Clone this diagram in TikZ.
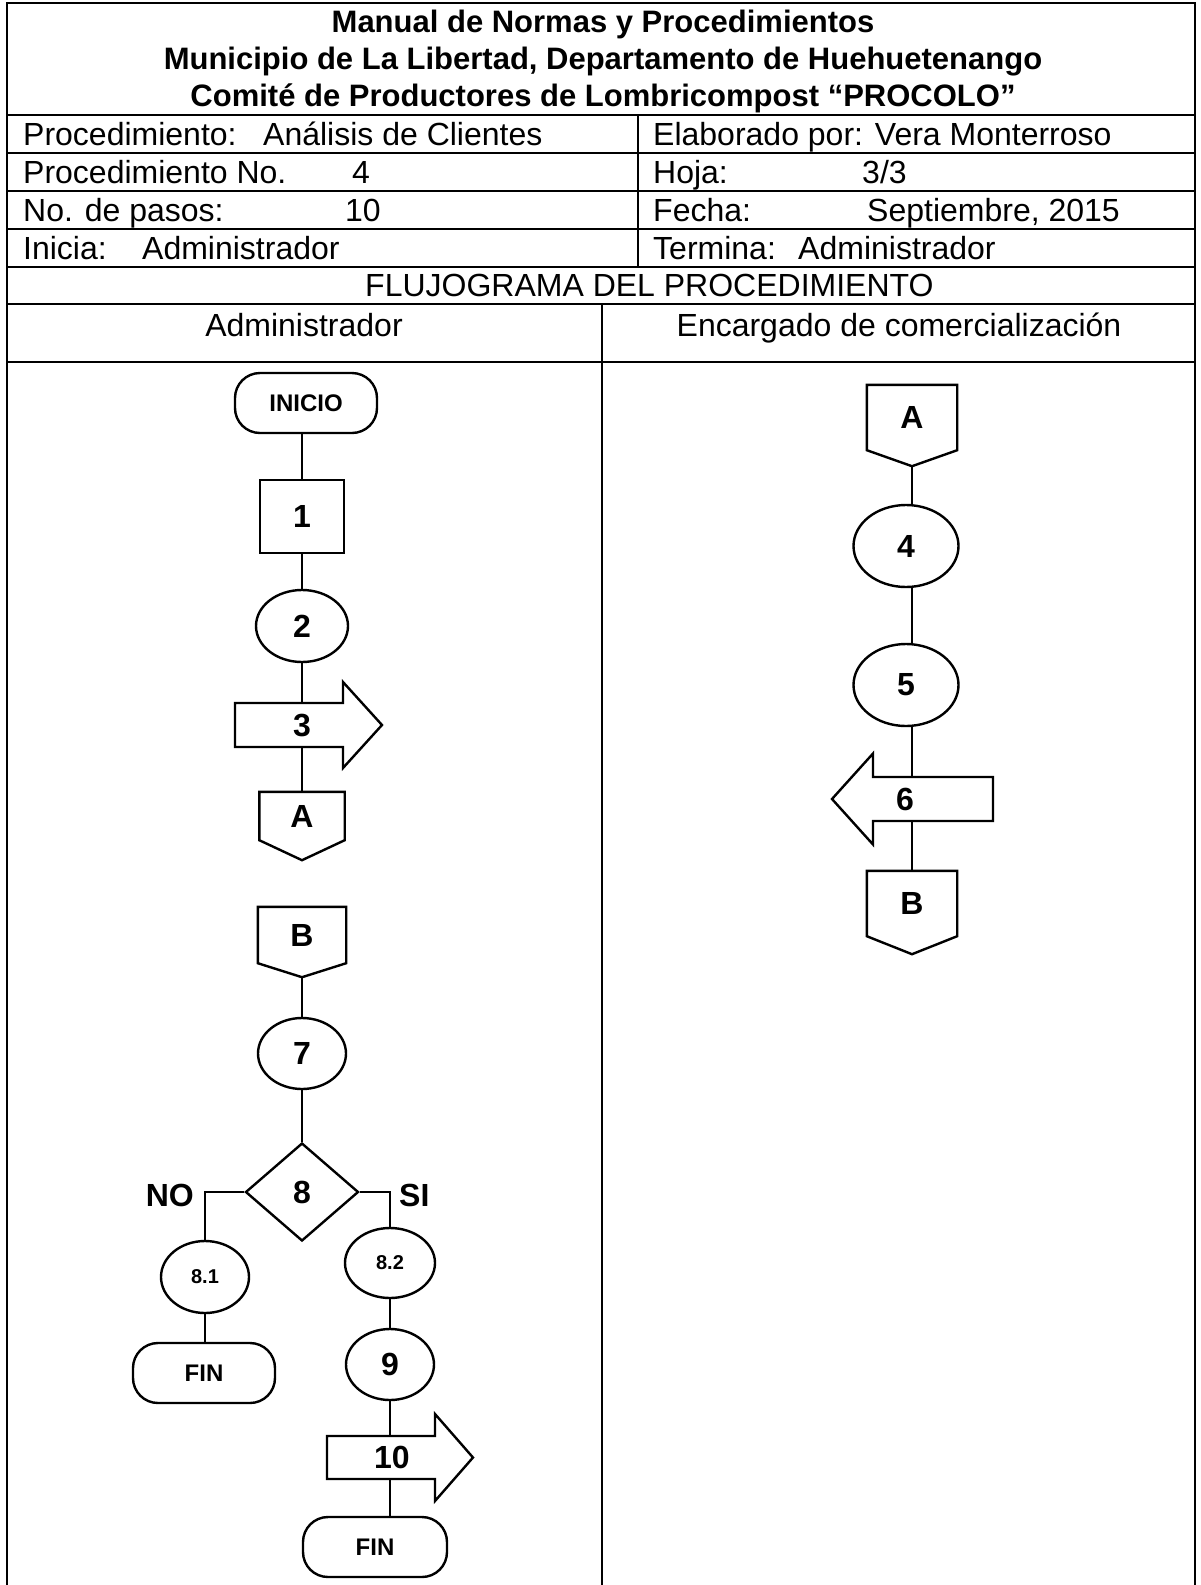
\documentclass[tikz,border=0pt]{standalone}
\usepackage{fontspec}
\setmainfont{Liberation Sans}
\usetikzlibrary{shapes.geometric,calc}

% off-page connector outline around a rectangular node, with a pointed bottom
\newcommand\drawoffpage[2]{%
  \draw[flow] (#1.north west) -- (#1.north east) -- (#1.south east)
    -- ($(#1.south)+(0,#2)$) coordinate (#1-tip) -- (#1.south west) -- cycle;}
% block arrow around a label node: tail dx, head-base dx, tip dx, half body, half head
\newcommand\drawblockarrow[6]{%
  \draw[flow] ($(#1)+(#2,-#5)$) -- ($(#1)+(#3,-#5)$) -- ($(#1)+(#3,-#6)$)
    -- ($(#1)+(#4,0)$) -- ($(#1)+(#3,#6)$) -- ($(#1)+(#3,#5)$)
    -- ($(#1)+(#2,#5)$) -- cycle;}

\tikzset{
  rule/.style={line width=2.6pt, line cap=rect},
  flow/.style={line width=2.4pt, line join=miter},
  cell/.style={anchor=base west, inner sep=0pt, font=\fontsize{32}{38}\selectfont},
  titletxt/.style={anchor=base, inner sep=0pt, font=\fontsize{31}{37}\selectfont\bfseries},
  lanetxt/.style={anchor=base, inner sep=0pt, font=\fontsize{32}{38}\selectfont},
  terminal/.style={draw, flow, rectangle, rounded corners=25pt, minimum width=#1,
    minimum height=60pt, inner sep=0pt, font=\fontsize{24}{28}\selectfont\bfseries},
  opbox/.style={draw, flow, rectangle, minimum width=84pt, minimum height=73pt,
    inner sep=0pt, font=\fontsize{32}{38}\selectfont\bfseries},
  oval/.style={draw, flow, ellipse, inner sep=0pt, font=\fontsize{32}{38}\selectfont\bfseries},
  ovalsmall/.style={draw, flow, ellipse, inner sep=0pt, font=\fontsize{20}{24}\selectfont\bfseries},
  decision/.style={draw, flow, diamond, minimum width=113pt, minimum height=98pt,
    inner sep=0pt, font=\fontsize{32}{38}\selectfont\bfseries},
  offpage/.style={rectangle, inner sep=0pt, minimum width=#1, font=\fontsize{32}{38}\selectfont\bfseries},
  arrowlbl/.style={rectangle, inner sep=0pt, minimum height=#1, font=\fontsize{32}{38}\selectfont\bfseries},
  branchtxt/.style={inner sep=0pt, font=\fontsize{32}{38}\selectfont\bfseries},
}

\begin{document}
\begin{tikzpicture}[x=1pt, y=-1pt]
\useasboundingbox (0,0) rectangle (1201,1585);
\fill[white] (0,0) rectangle (1201,1585);

% ---------- table frame ----------
\draw[rule] (7,1592) -- (7,3) -- (1195,3) -- (1195,1592);
\foreach \yy in {115,153,191,229,267,304,362}
  \draw[rule] (7,\yy) -- (1195,\yy);
\draw[rule] (638,115) -- (638,267);
\draw[rule] (602,304) -- (602,1592);

% ---------- heading ----------
\node[titletxt] (h1) at (603,32) {Manual de Normas y Procedimientos};
\node[titletxt] (h2) at (603,69) {Municipio de La Libertad, Departamento de Huehuetenango};
\node[titletxt] (h3) at (603,106) {Comité de Productores de Lombricompost “PROCOLO”};

% ---------- data rows ----------
\node[cell] (r1a) at (23,145) {Procedimiento:};
\node[cell] (r1b) at (263,145) {Análisis de Clientes};
\node[cell] (r1c) at (653,145) {Elaborado por: Vera Monterroso};
\node[cell] (r2a) at (23,183) {Procedimiento No.};
\node[cell] (r2b) at (352,183) {4};
\node[cell] (r2c) at (653,183) {Hoja:};
\node[cell] (r2d) at (862,183) {3/3};
\node[cell] (r3a) at (23,221) {No. de pasos:};
\node[cell] (r3b) at (345,221) {10};
\node[cell] (r3c) at (653,221) {Fecha:};
\node[cell] (r3d) at (867,221) {Septiembre, 2015};
\node[cell] (r4a) at (23,259) {Inicia:};
\node[cell] (r4b) at (142,259) {Administrador};
\node[cell] (r4c) at (653,259) {Termina:};
\node[cell] (r4d) at (798,259) {Administrador};
\node[cell] (flj) at (365,296) {FLUJOGRAMA DEL PROCEDIMIENTO};
\node[lanetxt] (laneL) at (304,336) {Administrador};
\node[lanetxt] (laneR) at (899,336) {Encargado de comercialización};

% ---------- Administrador lane ----------
\node[terminal=142pt] (ini) at (306,403) {INICIO};
\node[opbox] (n1) at (302,516.5) {1};
\node[oval, minimum width=92pt, minimum height=72pt] (n2) at (302,626) {2};
\node[arrowlbl=44pt] (s3) at (302,725) {3};
\drawblockarrow{s3}{-67}{41}{80}{22}{43}
\node[offpage=85pt, minimum height=48pt] (cA1) at (302,816) {A};
\drawoffpage{cA1}{20}

\node[offpage=88pt, minimum height=56pt] (cB1) at (302,935) {B};
\drawoffpage{cB1}{14}
\node[oval, minimum width=88pt, minimum height=71pt] (n7) at (302,1053.5) {7};
\node[decision] (d8) at (302,1192) {8};
\node[branchtxt, anchor=base east] (tno) at (194,1206) {NO};
\node[branchtxt, anchor=base west] (tsi) at (399,1206) {SI};
\node[ovalsmall, minimum width=88pt, minimum height=72pt] (n81) at (205,1277) {8.1};
\node[terminal=142pt] (fin1) at (204,1373) {FIN};
\node[ovalsmall, minimum width=90pt, minimum height=70pt] (n82) at (390,1263) {8.2};
\node[oval, minimum width=88pt, minimum height=71pt] (n9) at (390,1364.5) {9};
\node[arrowlbl=43pt] (s10) at (392,1457.5) {10};
\drawblockarrow{s10}{-65}{43}{81}{21.5}{43.5}
\node[terminal=144pt] (fin2) at (375,1547) {FIN};

\draw[flow] (ini.south -| n1.north) -- (n1.north);
\draw[flow] (n1) -- (n2);
\draw[flow] (n2) -- (s3);
\draw[flow] (s3) -- (cA1);
\draw[flow] (cB1-tip) -- (n7.north);
\draw[flow] (n7) -- (d8);
\draw[flow] (d8.west) -| (n81.north);
\draw[flow] (d8.east) -| (n82.north);
\draw[flow] (n81.south) -- (n81.south |- fin1.north);
\draw[flow] (n82) -- (n9);
\draw[flow] (n9.south) -- (n9.south |- s10.north);
\draw[flow] (n9.south |- s10.south) -- (n9.south |- fin2.north);

% ---------- Encargado de comercialización lane ----------
\node[offpage=90pt, minimum height=65pt] (cA2) at (912,417.5) {A};
\drawoffpage{cA2}{16}
\node[oval, minimum width=105pt, minimum height=82pt] (n4) at (906,546) {4};
\node[oval, minimum width=105pt, minimum height=82pt] (n5) at (906,685) {5};
\node[arrowlbl=44pt] (s6) at (905,799) {6};
\drawblockarrow{s6}{88}{-32}{-73}{22}{45.5}
\node[offpage=90pt, minimum height=65pt] (cB2) at (912,903.5) {B};
\drawoffpage{cB2}{18}

\draw[flow] (cA2-tip) -- (cA2-tip |- n4.north);
\draw[flow] (n4.south -| cA2-tip) -- (cA2-tip |- n5.north);
\draw[flow] (n5.south -| cA2-tip) -- (cA2-tip |- s6.north);
\draw[flow] (cA2-tip |- s6.south) -- (cB2.north);
\end{tikzpicture}
\end{document}
